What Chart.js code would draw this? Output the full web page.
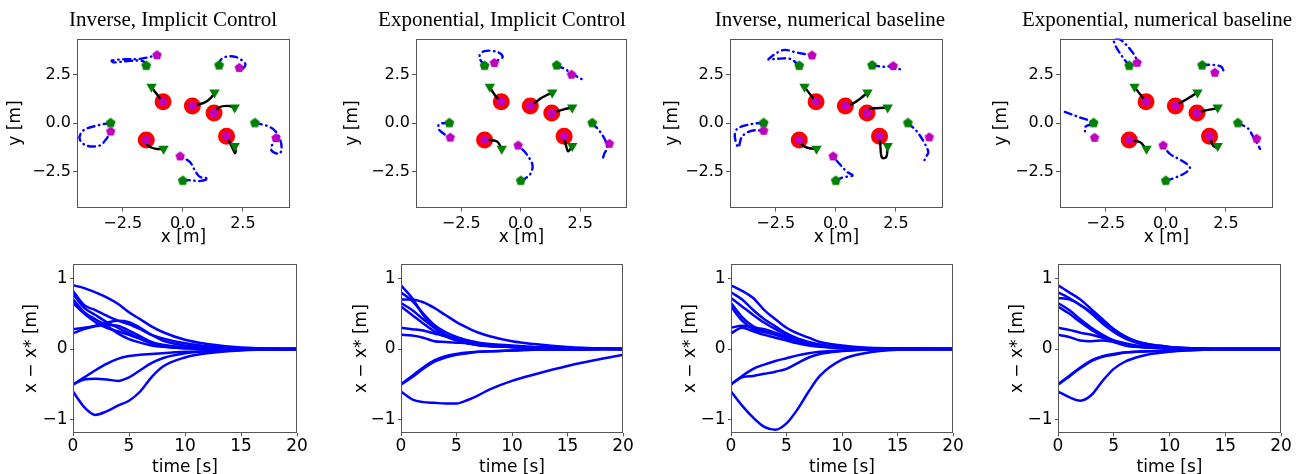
<!DOCTYPE html>
<html><head><meta charset="utf-8">
<script src="https://cdn.jsdelivr.net/npm/chart.js@4.4.1/dist/chart.umd.min.js"></script>
<style>
html,body{margin:0;padding:0;background:#fff;overflow:hidden;width:1304px;height:474px;position:relative;}
canvas{position:absolute;}
</style></head><body>
<script>
// ---------------- DATA ----------------
const panelTitles = ['Inverse, Implicit Control','Exponential, Implicit Control','Inverse, numerical baseline','Exponential, numerical baseline'];
const xTicksTop = [-2.5, 0, 2.5];
const yTicksTop = [-2.5, 0, 2.5];
const xTicksBottom = [0, 5, 10, 15, 20];
const yTicksBottom = [-1, 0, 1];

// goal positions (red circles) and leader start (green triangles)
const goalX = [-0.82, 0.40, 1.30, 1.82, -1.52];
const goalY = [1.09, 0.88, 0.51, -0.68, -0.88];
const leadStartX = [-1.30, 1.32, 2.16, 2.16, -0.80];
const leadStartY = [1.86, 1.57, 0.80, -1.18, -1.33];
// follower start positions (green pentagons)
const followStartX = [-1.52, 1.51, -3.00, 3.00, 0.00];
const followStartY = [2.95, 2.97, 0.00, 0.00, -2.97];

// follower end positions (magenta pentagons), per panel
const endP1 = [[-1.07,3.49],[2.35,2.84],[-3.00,-0.44],[3.88,-0.78],[-0.11,-1.72]];
const endP2 = [[-1.11,3.09],[2.13,2.49],[-2.96,-0.75],[3.72,-1.07],[-0.11,-1.16]];
const endP3 = [[-0.99,3.48],[2.39,2.93],[-3.00,-0.40],[3.89,-0.74],[-0.11,-1.72]];
const endP4 = [[-1.19,3.10],[2.04,2.59],[-2.96,-0.76],[3.78,-0.81],[-0.11,-1.16]];

// leader paths (black)
const leadP1 = [
  [[-1.30,1.86],[-1.15,1.60],[-1.00,1.35],[-0.82,1.09]],
  [[1.32,1.57],[1.18,1.31],[0.90,1.05],[0.40,0.88]],
  [[2.16,0.80],[1.85,0.88],[1.50,0.80],[1.30,0.51]],
  [[2.16,-1.18],[2.20,-1.42],[2.17,-1.55],[2.04,-1.22],[1.82,-0.68]],
  [[-0.80,-1.33],[-1.10,-1.33],[-1.45,-1.16],[-1.52,-0.88]]
];
const leadP2 = [
  [[-1.30,1.86],[-1.10,1.45],[-0.83,1.09]],
  [[1.32,1.57],[0.90,1.31],[0.60,1.05],[0.40,0.88]],
  [[2.16,0.80],[1.74,0.68],[1.30,0.51]],
  [[2.16,-1.18],[1.99,-1.46],[1.90,-1.15],[1.82,-0.66]],
  [[-0.80,-1.33],[-1.00,-0.95],[-1.53,-0.86]]
];
const leadP3 = [
  [[-1.30,1.86],[-1.05,1.45],[-0.82,1.09]],
  [[1.32,1.57],[1.00,1.24],[0.70,1.00],[0.40,0.88]],
  [[2.16,0.80],[1.69,0.76],[1.42,0.72],[1.30,0.51]],
  [[2.16,-1.18],[2.10,-1.75],[1.92,-1.78],[1.85,-1.10],[1.82,-0.68]],
  [[-0.80,-1.33],[-1.10,-1.30],[-1.36,-1.17],[-1.52,-0.88]]
];
const leadP4 = [
  [[-1.30,1.86],[-1.05,1.45],[-0.82,1.09]],
  [[1.32,1.57],[0.90,1.25],[0.40,0.88]],
  [[2.16,0.76],[1.70,0.66],[1.32,0.50]],
  [[2.12,-1.28],[1.97,-1.17],[1.82,-0.69]],
  [[-0.80,-1.36],[-1.08,-0.98],[-1.50,-0.90]]
];

// follower paths (blue dash-dot)
const followP1 = [
  [[-1.52,2.95],[-1.65,3.18],[-2.20,3.20],[-2.90,3.12],[-2.95,3.22],[-2.40,3.28],[-1.80,3.30],[-1.30,3.42],[-1.07,3.49]],
  [[1.51,2.97],[1.55,3.20],[1.75,3.40],[2.20,3.40],[2.60,3.05],[2.50,2.80],[2.35,2.84]],
  [[-3.00,0.00],[-3.46,-0.10],[-4.15,-0.39],[-4.29,-0.82],[-4.01,-1.16],[-3.46,-1.16],[-3.18,-0.82],[-3.00,-0.44]],
  [[3.00,0.00],[3.49,-0.14],[3.83,-0.39],[4.04,-0.82],[4.11,-1.33],[4.01,-1.58],[3.69,-1.41],[3.76,-0.99],[3.88,-0.78]],
  [[0.00,-2.97],[0.29,-2.94],[0.71,-2.99],[1.06,-2.86],[0.71,-2.77],[0.50,-2.43],[0.29,-2.00],[-0.11,-1.72]]
];
const followP2 = [
  [[-1.52,2.95],[-1.74,3.40],[-1.53,3.70],[-0.97,3.65],[-0.76,3.40],[-0.97,3.23],[-1.11,3.09]],
  [[1.51,2.97],[1.85,2.78],[2.20,2.50],[2.57,2.25]],
  [[-3.00,0.00],[-3.40,-0.05],[-3.47,-0.27],[-3.26,-0.53],[-2.96,-0.75]],
  [[3.00,0.00],[3.30,-0.40],[3.55,-0.90],[3.62,-1.30],[3.50,-1.60],[3.43,-1.90]],
  [[0.00,-2.97],[0.21,-2.84],[0.42,-2.58],[0.49,-2.15],[0.21,-1.55],[-0.11,-1.16]]
];
const followP3 = [
  [[-1.52,2.95],[-1.90,3.30],[-2.50,3.30],[-2.80,3.28],[-2.20,3.75],[-1.60,3.62],[-0.99,3.48]],
  [[1.51,2.97],[1.95,2.90],[2.40,2.90],[2.70,2.75]],
  [[-3.00,0.00],[-3.50,-0.05],[-4.10,-0.30],[-4.20,-0.70],[-4.05,-1.25],[-3.90,-0.70],[-3.50,-0.40],[-3.00,-0.40]],
  [[3.00,0.00],[3.35,-0.40],[3.65,-0.95],[3.85,-1.50],[3.75,-1.75],[3.62,-2.10]],
  [[0.00,-2.97],[0.30,-2.80],[0.70,-2.70],[0.45,-2.50],[0.15,-2.10],[-0.11,-1.72]]
];
const followP4 = [
  [[-1.52,2.95],[-1.80,3.40],[-2.10,4.00],[-2.15,4.30],[-1.90,4.30],[-1.45,3.75],[-1.20,3.25],[-1.19,3.10]],
  [[1.51,2.97],[1.90,3.00],[2.30,2.90],[2.40,2.70]],
  [[-4.20,0.57],[-3.60,0.30],[-3.00,0.00],[-3.35,-0.20],[-3.33,-0.64]],
  [[3.00,0.00],[3.43,-0.29],[3.64,-0.72],[3.85,-1.16],[3.92,-1.33]],
  [[0.00,-2.97],[0.44,-2.79],[0.86,-2.53],[1.00,-2.28],[0.65,-1.93],[0.17,-1.59],[-0.11,-1.16]]
];

// error time series x - x*
const timeGrid = [0,1,2,3,4,5,6,7,8,10,12,15,20];
const errP1 = [
  [0.90,0.86,0.80,0.73,0.64,0.52,0.42,0.32,0.24,0.13,0.07,0.02,0],
  [0.82,0.62,0.55,0.47,0.40,0.35,0.28,0.20,0.15,0.08,0.04,0.01,0],
  [0.78,0.58,0.48,0.38,0.30,0.22,0.15,0.09,0.05,0.02,0.01,0,0],
  [0.70,0.52,0.42,0.33,0.22,0.14,0.09,0.05,0.03,0.01,0,0,0],
  [0.65,0.50,0.38,0.30,0.25,0.20,0.14,0.08,0.04,0.01,0,0,0],
  [0.28,0.30,0.33,0.37,0.40,0.38,0.30,0.20,0.12,0.05,0.02,0,0],
  [0.22,0.28,0.32,0.34,0.33,0.26,0.18,0.10,0.06,0.02,0.01,0,0],
  [-0.50,-0.40,-0.30,-0.21,-0.14,-0.10,-0.08,-0.07,-0.06,-0.04,-0.03,-0.01,0],
  [-0.50,-0.43,-0.42,-0.43,-0.45,-0.40,-0.30,-0.20,-0.13,-0.06,-0.03,-0.01,0],
  [-0.60,-0.82,-0.93,-0.88,-0.80,-0.73,-0.60,-0.40,-0.25,-0.12,-0.06,-0.02,0]
];
const errP2 = [
  [0.90,0.72,0.48,0.30,0.20,0.14,0.10,0.07,0.05,0.03,0.02,0.01,0],
  [0.80,0.68,0.50,0.34,0.24,0.17,0.12,0.08,0.06,0.03,0.02,0.01,0],
  [0.70,0.70,0.66,0.58,0.48,0.38,0.30,0.23,0.18,0.11,0.07,0.03,0],
  [0.65,0.55,0.42,0.30,0.20,0.13,0.08,0.06,0.04,0.03,0.02,0.01,0],
  [0.60,0.48,0.36,0.25,0.18,0.12,0.08,0.05,0.04,0.03,0.02,0.01,0],
  [0.30,0.28,0.26,0.22,0.18,0.15,0.12,0.09,0.07,0.05,0.03,0.01,0],
  [0.20,0.19,0.16,0.11,0.10,0.09,0.08,0.06,0.05,0.03,0.02,0.01,0],
  [-0.50,-0.38,-0.26,-0.16,-0.10,-0.07,-0.05,-0.04,-0.03,-0.02,-0.01,-0.01,0],
  [-0.50,-0.40,-0.28,-0.18,-0.12,-0.08,-0.06,-0.04,-0.03,-0.02,-0.01,-0.01,0],
  [-0.60,-0.71,-0.75,-0.76,-0.77,-0.77,-0.72,-0.65,-0.57,-0.45,-0.36,-0.24,-0.08]
];
const errP3 = [
  [0.90,0.82,0.72,0.55,0.42,0.30,0.22,0.16,0.10,0.05,0.02,0.01,0],
  [0.80,0.70,0.55,0.42,0.32,0.22,0.15,0.10,0.06,0.03,0.01,0,0],
  [0.72,0.60,0.48,0.37,0.28,0.20,0.14,0.09,0.06,0.03,0.01,0,0],
  [0.65,0.45,0.32,0.26,0.22,0.17,0.12,0.08,0.05,0.02,0.01,0,0],
  [0.60,0.40,0.28,0.24,0.20,0.15,0.10,0.07,0.04,0.02,0.01,0,0],
  [0.30,0.33,0.30,0.28,0.23,0.17,0.12,0.08,0.05,0.02,0.01,0,0],
  [0.22,0.30,0.25,0.20,0.16,0.12,0.08,0.05,0.03,0.01,0,0,0],
  [-0.50,-0.38,-0.28,-0.22,-0.17,-0.13,-0.09,-0.06,-0.04,-0.02,-0.01,0,0],
  [-0.50,-0.40,-0.38,-0.35,-0.32,-0.28,-0.20,-0.12,-0.07,-0.03,-0.01,0,0],
  [-0.60,-0.80,-0.97,-1.10,-1.14,-1.05,-0.85,-0.60,-0.38,-0.15,-0.06,-0.01,0]
];
const errP4 = [
  [0.90,0.80,0.70,0.56,0.42,0.28,0.18,0.11,0.07,0.03,0.01,0,0],
  [0.80,0.72,0.62,0.50,0.36,0.24,0.15,0.09,0.05,0.02,0.01,0,0],
  [0.72,0.70,0.62,0.52,0.40,0.28,0.18,0.11,0.07,0.03,0.01,0,0],
  [0.65,0.55,0.42,0.30,0.20,0.12,0.06,0.03,0.02,0.01,0,0,0],
  [0.60,0.50,0.38,0.27,0.18,0.10,0.05,0.03,0.02,0.01,0,0,0],
  [0.30,0.27,0.23,0.20,0.16,0.12,0.08,0.05,0.03,0.01,0,0,0],
  [0.20,0.17,0.12,0.11,0.12,0.10,0.07,0.04,0.03,0.01,0,0,0],
  [-0.50,-0.38,-0.26,-0.16,-0.10,-0.07,-0.05,-0.04,-0.03,-0.02,-0.01,0,0],
  [-0.50,-0.39,-0.27,-0.17,-0.11,-0.08,-0.05,-0.04,-0.03,-0.02,-0.01,0,0],
  [-0.60,-0.68,-0.73,-0.65,-0.45,-0.28,-0.18,-0.12,-0.08,-0.04,-0.02,0,0]
];

// ---------------- LAYOUT / STYLE ----------------
const topGeom = [
  {L:0,   W:346, yw:77, right:290},
  {L:337, W:330, yw:79, right:627},
  {L:657, W:346, yw:73, right:943},
  {L:986, W:342, yw:74, right:1273}
];
const botGeom = [
  {L:16,   yw:57, right:297},
  {L:346,  yw:55, right:623},
  {L:675,  yw:56, right:953},
  {L:1002, yw:56, right:1281}
];
const SANS = 'DejaVu Sans';
const SERIF = 'Liberation Serif';
const AX = '#555';

function fmtNum(v, dec){
  const s = dec ? Math.abs(v).toFixed(dec) : String(Math.abs(v));
  return (v < 0 ? '\u2212' : '') + s;
}
function pentagon(color, r){
  const s = Math.ceil(2*r + 2);
  const c = document.createElement('canvas');
  c.width = s; c.height = s;
  const g = c.getContext('2d');
  g.fillStyle = color;
  g.beginPath();
  for (let k = 0; k < 5; k++){
    const a = -Math.PI/2 + k*2*Math.PI/5;
    const px = s/2 + r*Math.cos(a), py = s/2 + r*Math.sin(a);
    if (k) g.lineTo(px, py); else g.moveTo(px, py);
  }
  g.closePath(); g.fill();
  return c;
}
const greenPent = pentagon('#008000', 5.2);
const magPent = pentagon('#bf00bf', 5);

const framePlugin = {
  id: 'frame',
  afterDraw(chart){
    const a = chart.chartArea, ctx = chart.ctx;
    ctx.save();
    ctx.strokeStyle = AX; ctx.lineWidth = 1;
    const l = Math.round(a.left) + 0.5, t = Math.round(a.top) + 0.5;
    const r = Math.round(a.right) - 0.5, b = Math.round(a.bottom) - 0.5;
    ctx.strokeRect(l, t, r - l, b - t);
    ctx.restore();
  }
};

function makeCanvas(left, top, w, h){
  const cv = document.createElement('canvas');
  cv.width = w; cv.height = h;
  cv.style.left = left + 'px'; cv.style.top = top + 'px';
  cv.style.width = w + 'px'; cv.style.height = h + 'px';
  document.body.appendChild(cv);
  return cv;
}
const toPts = arr => arr.map(p => ({x:p[0], y:p[1]}));
const zipPts = (xs, ys) => xs.map((x, i) => ({x, y: ys[i]}));

function topChart(idx, leadPaths, followPaths, ends){
  const g = topGeom[idx];
  const cv = makeCanvas(g.L, 0, g.W, 250);
  const y2w = g.L + g.W - g.right;
  const datasets = [];
  datasets.push({type:'scatter', data: toPts(ends).concat(zipPts(goalX, goalY)), pointStyle: magPent, pointRadius: 5, order: 1});
  datasets.push({type:'scatter', data: zipPts(leadStartX, leadStartY), pointStyle:'triangle', rotation:180, pointRadius:6,
                 backgroundColor:'#008000', borderWidth:0, order: 2});
  datasets.push({type:'scatter', data: zipPts(followStartX, followStartY), pointStyle: greenPent, pointRadius: 5, order: 2});
  leadPaths.forEach(p => datasets.push({type:'scatter', showLine:true, data: toPts(p), borderColor:'#000', borderWidth:2.4,
                 pointRadius:0, tension:0.35, borderCapStyle:'round', order:3}));
  followPaths.forEach(p => datasets.push({type:'scatter', showLine:true, data: toPts(p), borderColor:'#0000ff', borderWidth:2.4,
                 borderDash:[7,4.5,0.5,4.5], borderCapStyle:'round', pointRadius:0, tension:0.35, order:3}));
  datasets.push({type:'scatter', data: zipPts(goalX, goalY), pointStyle:'circle', pointRadius:8.5,
                 backgroundColor:'#ff0000', borderWidth:0, order: 5});
  new Chart(cv, {
    data: {datasets},
    options: {
      responsive:false, animation:false,
      layout:{padding:0},
      plugins:{
        legend:{display:false}, tooltip:{enabled:false},
        title:{display:true, text: panelTitles[idx], color:'#000', font:{family:SERIF, size:21, weight:'normal'},
               padding:{top:7.4, bottom:5.9}}
      },
      scales:{
        x:{type:'linear', min:-4.4, max:4.46,
           afterBuildTicks: s => { s.ticks = xTicksTop.map(v => ({value:v})); },
           ticks:{callback: v => fmtNum(v, 1), color:'#000', font:{family:SANS, size:16}, padding:3, maxRotation:0, autoSkip:false},
           grid:{drawOnChartArea:false, drawTicks:true, tickLength:4, color:AX},
           border:{display:false},
           title:{display:true, text:'x [m]', color:'#000', font:{family:SANS, size:17}, padding:{top:0, bottom:1.8}},
           afterFit: s => { s.height = 42.5; }},
        y:{type:'linear', position:'left', min:-4.35, max:4.35,
           afterBuildTicks: s => { s.ticks = yTicksTop.map(v => ({value:v})); },
           ticks:{callback: v => fmtNum(v, 1), color:'#000', font:{family:SANS, size:16}, padding:2},
           grid:{drawOnChartArea:false, drawTicks:true, tickLength:4, color:AX},
           border:{display:false},
           title:{display:true, text:'y [m]', color:'#000', font:{family:SANS, size:17}, padding:{top:5.2, bottom:0}},
           afterFit: s => { s.width = g.yw; }},
        y2:{type:'linear', position:'right', display:true,
           ticks:{display:false}, grid:{display:false}, border:{display:false},
           afterFit: s => { s.width = y2w; }}
      }
    },
    plugins:[framePlugin]
  });
}

function botChart(idx, series){
  const g = botGeom[idx];
  const W = g.right + 20 - g.L;
  const cv = makeCanvas(g.L, 250, W, 230);
  const datasets = series.map(s => ({type:'line', data: timeGrid.map((t, i) => ({x:t, y:s[i]})),
     borderColor:'#0000ff', borderWidth:2.5, pointRadius:0, cubicInterpolationMode:'monotone', fill:false}));
  new Chart(cv, {
    data:{datasets},
    options:{
      responsive:false, animation:false,
      layout:{padding:{top:14, right:20, left:0, bottom:0}},
      plugins:{legend:{display:false}, tooltip:{enabled:false}, title:{display:false}},
      scales:{
        x:{type:'linear', min:0, max:20,
           afterBuildTicks: s => { s.ticks = xTicksBottom.map(v => ({value:v})); },
           ticks:{callback: v => fmtNum(v, 0), color:'#000', font:{family:SANS, size:17}, padding:0, maxRotation:0, autoSkip:false},
           grid:{drawOnChartArea:false, drawTicks:true, tickLength:3, color:AX},
           border:{display:false},
           title:{display:true, text:'time [s]', color:'#000', font:{family:SANS, size:17}, padding:{top:0, bottom:2.7}},
           afterFit: s => { s.height = 46.7; }},
        y:{type:'linear', position:'left', min:-1.19, max:1.2,
           afterBuildTicks: s => { s.ticks = yTicksBottom.map(v => ({value:v})); },
           ticks:{callback: v => fmtNum(v, 0), color:'#000', font:{family:SANS, size:17}, padding:2.5},
           grid:{drawOnChartArea:false, drawTicks:true, tickLength:3, color:AX},
           border:{display:false},
           title:{display:true, text:'x \u2212 x* [m]', color:'#000', font:{family:SANS, size:17}, padding:{top:5.2, bottom:0}},
           afterFit: s => { s.width = g.yw; }}
      }
    },
    plugins:[framePlugin]
  });
}

topChart(0, leadP1, followP1, endP1);
topChart(1, leadP2, followP2, endP2);
topChart(2, leadP3, followP3, endP3);
topChart(3, leadP4, followP4, endP4);
botChart(0, errP1);
botChart(1, errP2);
botChart(2, errP3);
botChart(3, errP4);
</script>
</body></html>
